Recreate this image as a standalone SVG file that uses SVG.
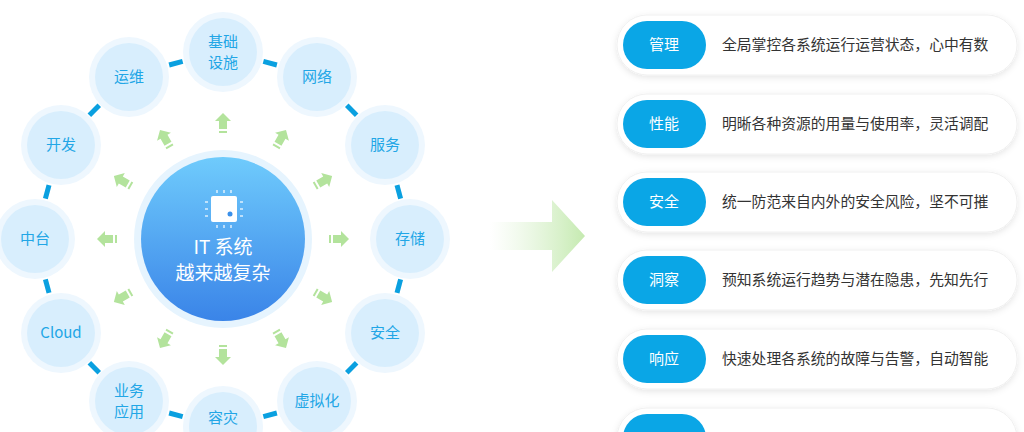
<svg xmlns="http://www.w3.org/2000/svg" width="1024" height="432" viewBox="0 0 1024 432">
<defs>
<linearGradient id="cg" x1="0" y1="0" x2="0" y2="1"><stop offset="0" stop-color="#6fcbfc"/><stop offset="1" stop-color="#3a84e8"/></linearGradient>
<linearGradient id="ag" x1="0" y1="0" x2="1" y2="0"><stop offset="0" stop-color="#d8f0cc" stop-opacity="0"/><stop offset="1" stop-color="#c5eab0"/></linearGradient>
<filter id="sh" x="-10%" y="-30%" width="120%" height="160%"><feDropShadow dx="0" dy="2" stdDeviation="3" flood-color="#000" flood-opacity="0.1"/></filter>
<g id="arr"><polygon points="-6,-4 2,-4 2,-8 10,0 2,8 2,4 -6,4" fill="#b3e39c"/><rect x="-10" y="-4" width="2" height="8" fill="#b3e39c"/></g>
</defs>
<style>
.halo{fill:#eef7fe}.nd{fill:#d8eefd}
.nt{font-family:"Noto Sans CJK SC","Noto Sans",sans-serif;font-size:15px;fill:#22a6e6;text-anchor:middle}
.ct{font-family:"Noto Sans CJK SC","Noto Sans",sans-serif;font-size:19px;fill:#fff;text-anchor:middle}
.card{fill:#fff;stroke:#f0f0f0}
.pill{fill:#0aa6e6}
.pt{font-family:"Noto Sans CJK SC",sans-serif;font-size:15px;fill:#fff;text-anchor:middle}
.dt{font-family:"Noto Sans CJK SC",sans-serif;font-size:14.8px;fill:#333}
.seg{stroke:#0aa0e0;stroke-width:5}
</style>
<rect width="1024" height="432" fill="#fff"/>
<g id="connectors">
<g transform="translate(223,239)">
<line class="seg" transform="rotate(15)" x1="182" y1="-7" x2="182" y2="7"/>
<line class="seg" transform="rotate(45)" x1="182" y1="-7" x2="182" y2="7"/>
<line class="seg" transform="rotate(75)" x1="182" y1="-7" x2="182" y2="7"/>
<line class="seg" transform="rotate(105)" x1="182" y1="-7" x2="182" y2="7"/>
<line class="seg" transform="rotate(135)" x1="182" y1="-7" x2="182" y2="7"/>
<line class="seg" transform="rotate(165)" x1="182" y1="-7" x2="182" y2="7"/>
<line class="seg" transform="rotate(195)" x1="182" y1="-7" x2="182" y2="7"/>
<line class="seg" transform="rotate(225)" x1="182" y1="-7" x2="182" y2="7"/>
<line class="seg" transform="rotate(255)" x1="182" y1="-7" x2="182" y2="7"/>
<line class="seg" transform="rotate(285)" x1="182" y1="-7" x2="182" y2="7"/>
<line class="seg" transform="rotate(315)" x1="182" y1="-7" x2="182" y2="7"/>
<line class="seg" transform="rotate(345)" x1="182" y1="-7" x2="182" y2="7"/>
<use href="#arr" transform="rotate(0) translate(116,0)"/>
<use href="#arr" transform="rotate(30) translate(116,0)"/>
<use href="#arr" transform="rotate(60) translate(116,0)"/>
<use href="#arr" transform="rotate(90) translate(116,0)"/>
<use href="#arr" transform="rotate(120) translate(116,0)"/>
<use href="#arr" transform="rotate(150) translate(116,0)"/>
<use href="#arr" transform="rotate(180) translate(116,0)"/>
<use href="#arr" transform="rotate(210) translate(116,0)"/>
<use href="#arr" transform="rotate(240) translate(116,0)"/>
<use href="#arr" transform="rotate(270) translate(116,0)"/>
<use href="#arr" transform="rotate(300) translate(116,0)"/>
<use href="#arr" transform="rotate(330) translate(116,0)"/>
</g>
<polygon points="490,222 552,222 552,200 585,236 552,272 552,250 490,250" fill="url(#ag)"/>
</g>
<g id="center">
<circle cx="223" cy="239" r="89" fill="#e6f4fe"/>
<circle cx="223" cy="239" r="82" fill="url(#cg)"/>
<rect x="211" y="196" width="26" height="26" rx="2" fill="#fff"/>
<circle cx="230" cy="214" r="2.5" fill="#3a90ea"/>
<g stroke="#fff" stroke-width="1.5" opacity="0.8">
<line x1="217" y1="190" x2="217" y2="193"/><line x1="224" y1="190" x2="224" y2="193"/><line x1="231" y1="190" x2="231" y2="193"/>
<line x1="217" y1="225" x2="217" y2="228"/><line x1="224" y1="225" x2="224" y2="228"/><line x1="231" y1="225" x2="231" y2="228"/>
<line x1="205" y1="202" x2="208" y2="202"/><line x1="205" y1="209" x2="208" y2="209"/><line x1="205" y1="216" x2="208" y2="216"/>
<line x1="240" y1="202" x2="243" y2="202"/><line x1="240" y1="209" x2="243" y2="209"/><line x1="240" y1="216" x2="243" y2="216"/>
</g>
<text class="ct" x="223" y="254">IT 系统</text>
<text class="ct" x="223" y="280">越来越复杂</text>
</g>
<g id="n-jichu"><circle class="halo" cx="223" cy="52" r="40"/><circle class="nd" cx="223" cy="52" r="34"/><text class="nt" x="223" y="47">基础</text><text class="nt" x="223" y="68">设施</text></g>
<g id="n-wangluo"><circle class="halo" cx="317" cy="77" r="40"/><circle class="nd" cx="317" cy="77" r="34"/><text class="nt" x="317" y="82">网络</text></g>
<g id="n-fuwu"><circle class="halo" cx="385" cy="145" r="40"/><circle class="nd" cx="385" cy="145" r="34"/><text class="nt" x="385" y="150">服务</text></g>
<g id="n-cunchu"><circle class="halo" cx="410" cy="239" r="40"/><circle class="nd" cx="410" cy="239" r="34"/><text class="nt" x="410" y="244">存储</text></g>
<g id="n-anquan"><circle class="halo" cx="385" cy="333" r="40"/><circle class="nd" cx="385" cy="333" r="34"/><text class="nt" x="385" y="338">安全</text></g>
<g id="n-xuni"><circle class="halo" cx="317" cy="401" r="40"/><circle class="nd" cx="317" cy="401" r="34"/><text class="nt" x="317" y="406">虚拟化</text></g>
<g id="n-rongzai"><circle class="halo" cx="223" cy="426" r="40"/><circle class="nd" cx="223" cy="426" r="34"/><text class="nt" x="223" y="423">容灾</text></g>
<g id="n-yewu"><circle class="halo" cx="129" cy="401" r="40"/><circle class="nd" cx="129" cy="401" r="34"/><text class="nt" x="129" y="396">业务</text><text class="nt" x="129" y="417">应用</text></g>
<g id="n-cloud"><circle class="halo" cx="61" cy="333" r="40"/><circle class="nd" cx="61" cy="333" r="34"/><text class="nt" x="61" y="338">Cloud</text></g>
<g id="n-zhongtai"><circle class="halo" cx="35" cy="239" r="40"/><circle class="nd" cx="35" cy="239" r="34"/><text class="nt" x="35" y="244">中台</text></g>
<g id="n-kaifa"><circle class="halo" cx="61" cy="145" r="40"/><circle class="nd" cx="61" cy="145" r="34"/><text class="nt" x="61" y="150">开发</text></g>
<g id="n-yunwei"><circle class="halo" cx="129" cy="77" r="40"/><circle class="nd" cx="129" cy="77" r="34"/><text class="nt" x="129" y="82">运维</text></g>
<g id="c1"><rect class="card" filter="url(#sh)" x="617" y="15" width="400" height="60" rx="30"/><rect class="pill" x="623" y="21" width="83" height="48" rx="24"/><text class="pt" x="664" y="50">管理</text><text class="dt" x="722" y="50">全局掌控各系统运行运营状态，心中有数</text></g>
<g id="c2"><rect class="card" filter="url(#sh)" x="617" y="94" width="400" height="60" rx="30"/><rect class="pill" x="623" y="100" width="83" height="48" rx="24"/><text class="pt" x="664" y="129">性能</text><text class="dt" x="722" y="129">明晰各种资源的用量与使用率，灵活调配</text></g>
<g id="c3"><rect class="card" filter="url(#sh)" x="617" y="172" width="400" height="60" rx="30"/><rect class="pill" x="623" y="178" width="83" height="48" rx="24"/><text class="pt" x="664" y="207">安全</text><text class="dt" x="722" y="207">统一防范来自内外的安全风险，坚不可摧</text></g>
<g id="c4"><rect class="card" filter="url(#sh)" x="617" y="250" width="400" height="60" rx="30"/><rect class="pill" x="623" y="256" width="83" height="48" rx="24"/><text class="pt" x="664" y="285">洞察</text><text class="dt" x="722" y="285">预知系统运行趋势与潜在隐患，先知先行</text></g>
<g id="c5"><rect class="card" filter="url(#sh)" x="617" y="329" width="400" height="60" rx="30"/><rect class="pill" x="623" y="335" width="83" height="48" rx="24"/><text class="pt" x="664" y="364">响应</text><text class="dt" x="722" y="364">快速处理各系统的故障与告警，自动智能</text></g>
<g id="c6"><rect class="card" filter="url(#sh)" x="617" y="408" width="400" height="60" rx="30"/><rect class="pill" x="623" y="414" width="83" height="48" rx="24"/></g>
</svg>
